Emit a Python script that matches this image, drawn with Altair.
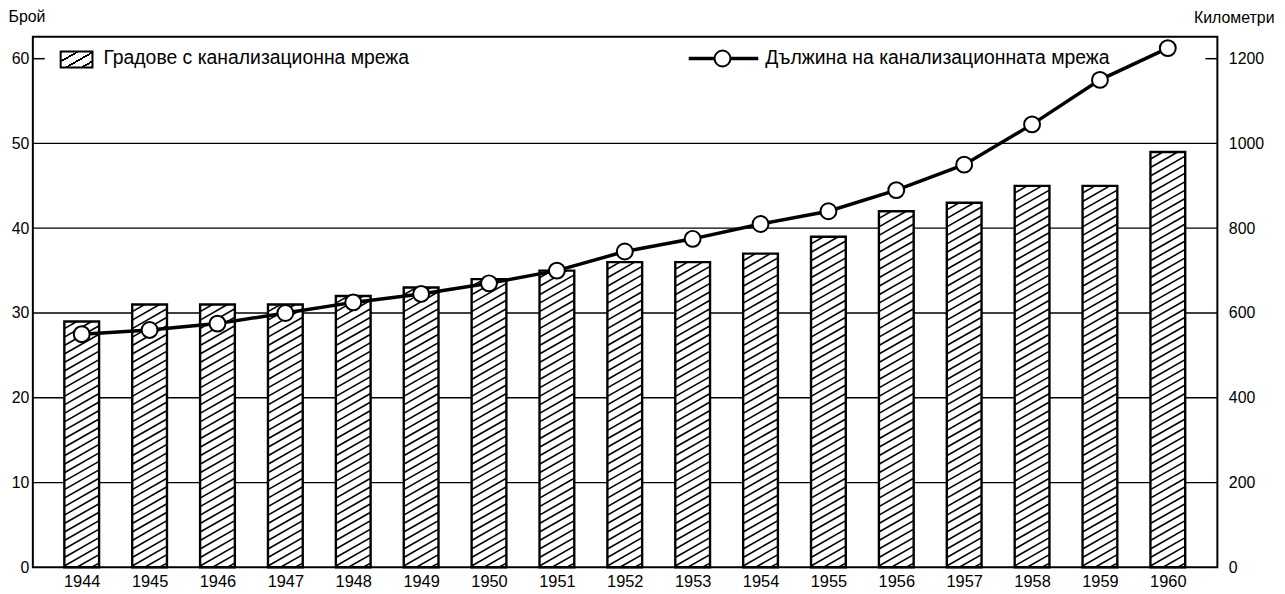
import altair as alt
import pandas as pd

# ---------------- data ----------------
years = list(range(1944, 1961))
towns = [29, 31, 31, 31, 32, 33, 34, 35, 36, 36, 37, 39, 42, 43, 45, 45, 49]
length_km = [550, 560, 575, 600, 625, 645, 670, 700, 745, 775, 810, 840, 890, 950, 1045, 1150, 1225]
left_ticks = [0, 10, 20, 30, 40, 50, 60]
right_ticks = [0, 200, 400, 600, 800, 1000, 1200]
grid_values = [10, 20, 30, 40, 50]
legend_bars = "Градове с канализационна мрежа"
legend_line = "Дължина на канализационната мрежа"
title_left = "Брой"
title_right = "Километри"

df = pd.DataFrame({"year": years, "towns": towns, "km": length_km})

# ---------------- style ----------------
FONT = "Liberation Sans"
W, H = 1192, 534
HALF = 0.256      # half bar width in years
RISE = 2.34       # hatch rise across a bar (left-axis units)
STEP = 1.0        # hatch vertical spacing (left-axis units)

xscale = alt.Scale(domain=[1943.28, 1960.73], nice=False, zero=False)
yl_scale = alt.Scale(domain=[0, 62.6], nice=False)
yr_scale = alt.Scale(domain=[0, 1252], nice=False)

xaxis = alt.Axis(values=years, format="d", title=None, grid=False, ticks=False,
                 domain=False, labelFontSize=16.5, labelPadding=6)
yl_axis = alt.Axis(values=left_ticks, format="d", title=title_left, titleAngle=0, titleAlign="left",
                   titleBaseline="middle", titleX=-25, titleY=-20, titleFontSize=16,
                   titleFontWeight="normal", labelFontSize=16, labelPadding=4,
                   ticks=False, domain=False, grid=False)
yr_axis = alt.Axis(orient="right", values=right_ticks, format="d", title=title_right, titleAngle=0,
                   titleAlign="right", titleBaseline="middle", titleX=57, titleY=-19,
                   titleFontSize=16, titleFontWeight="normal", labelFontSize=16,
                   labelPadding=11, ticks=False, domain=False, grid=False)

X = lambda f: alt.X(f, scale=xscale, axis=xaxis)
YL = lambda f: alt.Y(f, scale=yl_scale, axis=yl_axis)
YR = lambda f: alt.Y(f, scale=yr_scale, axis=yr_axis)

# gradient stripes for the legend swatch (32x16 px box)
sw_w, sw_h, r = 32.0, 16.0, 0.57
gx, gy = r / sw_h, 1.0 / sw_w
k = (gx + gy) / (gx * gx + gy * gy)
periods = 3.8
stops = []
n = int(periods) + 1
for i in range(n + 1):
    a = i / periods
    b = a + 0.22 / periods
    for off, col in [(a, "black"), (b, "black"), (b, "white"), (a + 1 / periods, "white")]:
        if off <= 1:
            stops.append({"offset": round(off, 4), "color": col})
swatch_fill = {"gradient": "linear", "x1": 0, "y1": 0, "x2": gx * k, "y2": gy * k, "stops": stops}

# ---------------- left group (bars) ----------------
one = pd.DataFrame({"a": [0]})

grid = alt.Chart(pd.DataFrame({"g": grid_values})).mark_rule(
    color="black", strokeWidth=1.3).encode(y=YL("g:Q"))

base = alt.Chart(df).transform_calculate(
    xl=f"datum.year - {HALF}", xr=f"datum.year + {HALF}", zero="0")

bars = base.mark_rect(fill="white").encode(
    x=X("xl:Q"), x2="xr:Q", y=YL("towns:Q"), y2="zero:Q")

hatch = base.transform_calculate(
    ks=f"sequence({-RISE + 0.5}, datum.towns, {STEP})"
).transform_flatten(["ks"], as_=["k"]).transform_calculate(
    hy1="max(datum.k, 0)", hy2=f"min(datum.k + {RISE}, datum.towns)"
).transform_filter("datum.hy2 > datum.hy1").transform_calculate(
    hx1=f"datum.xl + (datum.hy1 - datum.k) / {RISE} * {2 * HALF}",
    hx2=f"datum.xl + (datum.hy2 - datum.k) / {RISE} * {2 * HALF}",
).mark_rule(color="black", strokeWidth=1.6).encode(
    x=X("hx1:Q"), x2="hx2:Q", y=YL("hy1:Q"), y2="hy2:Q")

outline = base.mark_rect(fill="transparent", stroke="black", strokeWidth=2.4).encode(
    x=X("xl:Q"), x2="xr:Q", y=YL("towns:Q"), y2="zero:Q")

tick60 = alt.Chart(pd.DataFrame({"t": [60]})).mark_rule(color="black", strokeWidth=1.5).encode(
    y=YL("t:Q"), x=alt.value(0), x2=alt.value(12))

swatch = alt.Chart(one).mark_rect(fill=swatch_fill, stroke="black", strokeWidth=2).encode(
    x=alt.value(28), x2=alt.value(60), y=alt.value(15), y2=alt.value(31))

leg_text_l = alt.Chart(one).mark_text(align="left", baseline="middle", fontSize=19.5,
                                      font=FONT, color="black").encode(
    x=alt.value(71), y=alt.value(22), text=alt.value(legend_bars))

left = alt.layer(grid, bars, hatch, outline, tick60, swatch, leg_text_l)

# ---------------- right group (line) ----------------
line = alt.Chart(df).mark_line(color="black", strokeWidth=3.5).encode(
    x=X("year:Q"), y=YR("km:Q"))
points = alt.Chart(df).mark_point(shape="circle", filled=True, fill="white", stroke="black",
                                  strokeWidth=2, size=256, opacity=1).encode(
    x=X("year:Q"), y=YR("km:Q"))
tick1200 = alt.Chart(pd.DataFrame({"t": [1200]})).mark_rule(color="black", strokeWidth=1.5).encode(
    y=YR("t:Q"), x=alt.value(W - 12), x2=alt.value(W))

leg_rule = alt.Chart(one).mark_rule(color="black", strokeWidth=3.5).encode(
    x=alt.value(660), x2=alt.value(730), y=alt.value(22))
leg_point = alt.Chart(one).mark_point(shape="circle", filled=True, fill="white", stroke="black",
                                      strokeWidth=2, size=256, opacity=1).encode(
    x=alt.value(694), y=alt.value(22))
leg_text_r = alt.Chart(one).mark_text(align="left", baseline="middle", fontSize=19.5,
                                      font=FONT, color="black").encode(
    x=alt.value(737), y=alt.value(22), text=alt.value(legend_line))

right = alt.layer(line, points, tick1200, leg_rule, leg_point, leg_text_r)

chart = alt.layer(left, right).resolve_scale(y="independent").properties(
    width=W, height=H,
    autosize=alt.AutoSizeParams(type="none"),
    padding={"left": 25, "top": 27, "right": 60, "bottom": 20},
).configure_view(stroke="black", strokeWidth=2).configure_axis(
    labelFont=FONT, titleFont=FONT, labelColor="black", titleColor="black"
).configure_text(font=FONT)

chart.save("out.html", embed_options={"renderer": "svg", "actions": False})
